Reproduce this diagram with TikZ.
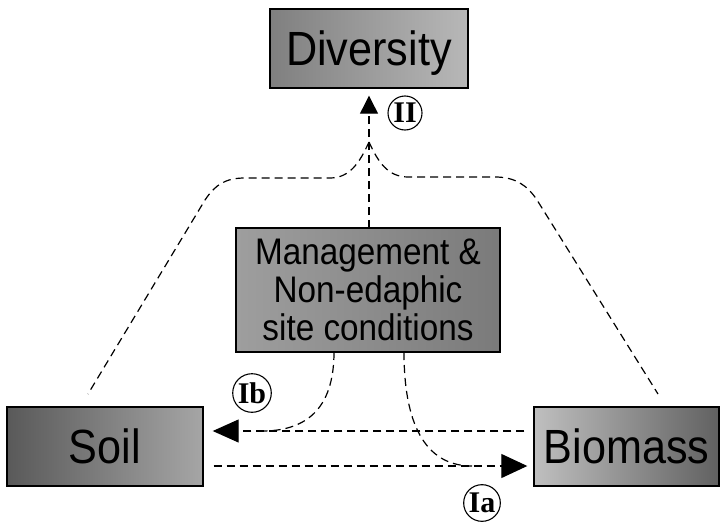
\documentclass[tikz,border=0pt]{standalone}
\usepackage{fontspec}
\setmainfont{Liberation Serif}
\newfontfamily\boxfont[FakeStretch=0.9]{Liberation Sans}
\usetikzlibrary{arrows.meta}
\tikzset{
  box/.style={draw=black, line width=1.4pt, inner sep=0pt, align=center},
  bigtext/.style={font=\boxfont\fontsize{48}{50}\selectfont, text height=34pt, text depth=0pt},
  dl/.style={draw=black, line width=1.2pt, dash pattern=on 8pt off 5pt},
  roman/.style={draw=black, circle, line width=1.1pt, inner sep=1.2pt, minimum size=34pt, font=\fontsize{30}{32}\selectfont\bfseries},
}
\begin{document}
\begin{tikzpicture}[x=1pt, y=-1pt]
\useasboundingbox (0,0) rectangle (725,522);
% boxes
\node[box, bigtext, minimum width=198pt, minimum height=79pt,
      left color=black!50, middle color=black!55, right color=black!28] (div) at (369,48.5) {Diversity};
\node[box, font=\boxfont\fontsize{37}{38}\selectfont, minimum width=264pt, minimum height=124pt,
      left color=black!38, middle color=black!58, right color=black!52] (mgmt) at (368,290)
      {Management \&\\Non-edaphic\\site conditions};
\node[box, bigtext, minimum width=196pt, minimum height=79pt,
      left color=black!65, middle color=black!52, right color=black!35] (soil) at (105,446.5) {Soil};
\node[box, bigtext, minimum width=185pt, minimum height=79pt,
      left color=black!25, middle color=black!30, right color=black!62] (bio) at (626.5,446.5) {Biomass};
% labels
\node[roman] (lII) at (405,113) {II};
\node[roman] (lIb) at (252,393) {Ib};
\node[roman] (lIa) at (482,503) {Ia};
% coordinates
\coordinate (J) at (369,142);
\coordinate (mtop) at (369,228);
\coordinate (sTop) at (88,394);
\coordinate (bTop) at (658,394);
\coordinate (m1) at (334,352);
\coordinate (m2) at (404,352);
\coordinate (jb) at (262,431);
\coordinate (ja) at (472,466);
% vertical arrow
\draw[dl, -{Triangle[length=18pt,width=18pt]}, shorten >=7pt] (mtop) -- (div.south);
% upper curves
\draw[dl] (J) .. controls (360,162) and (350,178) .. (330,178) -- (245,178)
   .. controls (225,178) and (215,185) .. (205,200) -- (sTop);
\draw[dl] (J) .. controls (378,162) and (388,177) .. (408,177) -- (495,177)
   .. controls (515,177) and (527,185) .. (537,200) -- (bTop);
% horizontal arrows
\draw[dl, -{Triangle[length=26pt,width=23pt]}, shorten <=9pt, shorten >=9pt]
   ([yshift=15.5pt]bio.west) -- ([yshift=15.5pt]soil.east);
\draw[dl, -{Triangle[length=26pt,width=24pt]}, shorten <=10pt, shorten >=6pt]
   ([yshift=-19.5pt]soil.east) -- ([yshift=-19.5pt]bio.west);
% management curves
\draw[dl] (m1) .. controls (334,410) and (305,431) .. (jb);
\draw[dl] (m2) .. controls (404,432) and (430,466) .. (ja);
\end{tikzpicture}
\end{document}
